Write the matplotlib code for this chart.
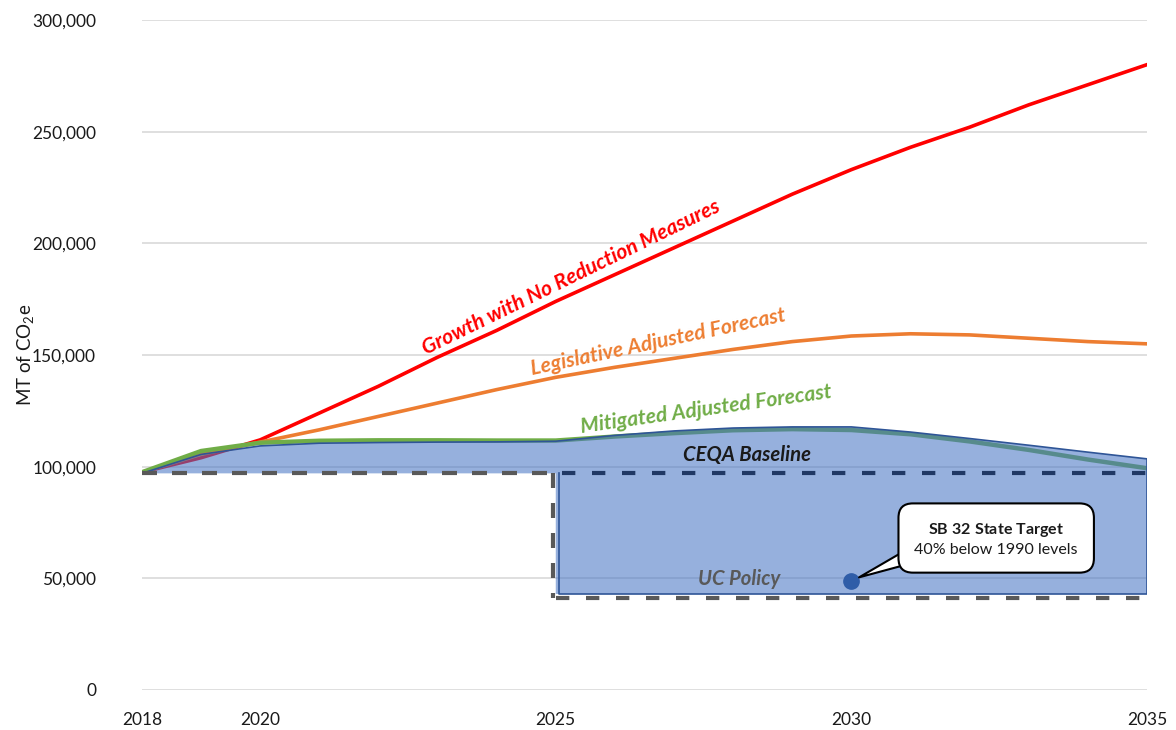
import matplotlib
matplotlib.use("Agg")
import matplotlib.pyplot as plt

# dados
anos = list(range(2018, 2036))
crescimento = [97500, 104000, 112000, 124000, 136000, 149000, 161000, 174000, 186000,
               198000, 210000, 222000, 233000, 243000, 252000, 262000, 271000, 280000]
legislativo = [97500, 105500, 111000, 116500, 122500, 128500, 134500, 140000, 144500,
               148500, 152500, 156000, 158500, 159500, 159000, 157500, 156000, 155000]
mitigado = [97500, 107000, 110700, 111600, 111800, 111800, 111700, 111700, 113500,
            115000, 116300, 116800, 116400, 114500, 111300, 107500, 103200, 99300]
baseTopo = [97000, 105500, 109300, 110500, 110800, 111000, 111100, 111400, 114000,
            116000, 117300, 117800, 117800, 115500, 112600, 109600, 106500, 103500]

ceqaBaseline = 97000
ucInicio = 2025
ucPiso = 43000
ucLinha = 41000
alvoAno = 2030
alvoValor = 49000

xTicks = [2018, 2020, 2025, 2030, 2035]
yTicks = [0, 50000, 100000, 150000, 200000, 250000, 300000]

plt.rcParams['font.family'] = ['Lato', 'DejaVu Sans']
plt.rcParams['mathtext.fontset'] = 'custom'
plt.rcParams['mathtext.rm'] = 'Lato'
plt.rcParams['mathtext.it'] = 'Lato:italic'
plt.rcParams['mathtext.bf'] = 'Lato:bold'

fig = plt.figure(figsize=(11.76, 7.30), dpi=100)
ax = fig.add_axes([0.1207, 0.0548, 0.8546, 0.9178])

# linhas de previsao
ax.plot(anos, crescimento, color='#FF0000', lw=2.6, zorder=3)
ax.plot(anos, legislativo, color='#ED7D31', lw=2.6, zorder=3)
ax.plot(anos, mitigado, color='#70AD47', lw=3.2, zorder=3)

# area azul (CEQA baseline + UC policy)
xs = anos + [anos[-1], ucInicio, ucInicio, anos[0]]
ys = baseTopo + [ucPiso, ucPiso, ceqaBaseline, ceqaBaseline]
ax.fill(xs, ys, facecolor='#4472C4', alpha=0.56, edgecolor='none', zorder=4)
ax.plot(anos, baseTopo, color='#2F5597', lw=1.2, zorder=5)
ax.plot([anos[-1], anos[-1], ucInicio + 0.05, ucInicio + 0.05], [baseTopo[-1], ucPiso, ucPiso, ceqaBaseline],
        color='#2F5597', lw=1.2, zorder=5)

# linhas tracejadas
ax.plot([anos[0], ucInicio], [ceqaBaseline, ceqaBaseline], color='#595959', lw=3, dashes=(3.6, 3.6), zorder=6)
ax.plot([ucInicio - 0.05, ucInicio - 0.05], [ceqaBaseline, ucLinha], color='#595959', lw=3, dashes=(3.6, 3.6), zorder=6)
ax.plot([ucInicio, anos[-1]], [ucLinha, ucLinha], color='#595959', lw=3, dashes=(3.2, 4.0), zorder=6)
ax.plot([ucInicio + 0.1, anos[-1]], [ceqaBaseline, ceqaBaseline], color='#203864', lw=3, dashes=(3.2, 4.0), zorder=6)

# ponto da meta estadual
ax.plot([alvoAno], [alvoValor], 'o', color='#2F5DA8', ms=11, zorder=7)

# rotulos das linhas
ax.text(2025.26, 184500, 'Growth with No Reduction Measures', color='#FF0000', fontsize=15.2,
        fontweight='bold', fontstyle='italic', rotation=26, ha='center', va='center', rotation_mode='anchor')
ax.text(2026.73, 155800, 'Legislative Adjusted Forecast', color='#ED7D31', fontsize=15.2,
        fontweight='bold', fontstyle='italic', rotation=12, ha='center', va='center', rotation_mode='anchor')
ax.text(2027.55, 125400, 'Mitigated Adjusted Forecast', color='#70AD47', fontsize=15.2,
        fontweight='bold', fontstyle='italic', rotation=8, ha='center', va='center', rotation_mode='anchor')
ax.text(2028.23, 105200, 'CEQA Baseline', color='#1A1A1A', fontsize=14.6,
        fontweight='bold', fontstyle='italic', ha='center', va='center', zorder=8)
ax.text(2028.1, 49700, 'UC Policy', color='#595959', fontsize=14.6,
        fontweight='bold', fontstyle='italic', ha='center', va='center', zorder=8)

# balao
ax.annotate('$\\mathbf{SB\\ 32\\ State\\ Target}$\n40% below 1990 levels',
            xy=(alvoAno, alvoValor), xytext=(2032.45, 67600),
            ha='center', va='center', multialignment='center', fontsize=11.5, color='#1A1A1A',
            linespacing=1.3, zorder=9,
            bbox=dict(boxstyle='round,pad=1.0,rounding_size=0.9', fc='white', ec='black', lw=1.5),
            arrowprops=dict(arrowstyle='wedge,tail_width=1.3,shrink_factor=0.5', fc='white', ec='black',
                            lw=1.5, relpos=(0.12, 0.3), patchA=None, shrinkB=6))

# eixos
ax.set_xlim(anos[0], anos[-1])
ax.set_ylim(0, 300000)
ax.set_xticks(xTicks)
ax.set_xticklabels([str(a) for a in xTicks])
ax.set_yticks(yTicks)
ax.set_yticklabels([f'{v:,}' for v in yTicks])
ax.tick_params(length=0, labelsize=12.5, colors='#1A1A1A')
ax.tick_params(axis='y', pad=33)
ax.tick_params(axis='x', pad=16)
ax.grid(axis='y', color='#D9D9D9', lw=1.2)
ax.set_axisbelow(True)
for s in ax.spines.values():
    s.set_visible(False)
ax.set_ylabel('MT of CO$_2$e', fontsize=13.5, color='#1A1A1A', labelpad=2)
ax.yaxis.set_label_coords(-0.105, 0.5)

fig.savefig('out.png', dpi=100)
